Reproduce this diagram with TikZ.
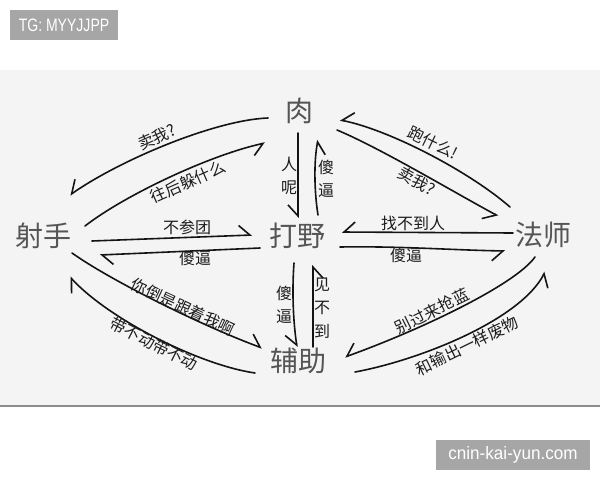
\documentclass[tikz,border=0pt]{standalone}
\usepackage{fontspec}
\setmainfont{Noto Sans CJK SC}
\newfontfamily\wmfont{Liberation Sans}
\usetikzlibrary{arrows.meta}
\definecolor{panel}{HTML}{F4F4F4}
\definecolor{rimgray}{HTML}{8C8C8C}
\definecolor{wmgray}{HTML}{A6A6A6}
\definecolor{rolegray}{HTML}{555555}
\definecolor{lblgray}{HTML}{1C1C1C}
\tikzset{
  role/.style={text=rolegray, font=\fontsize{28}{30}\selectfont, inner sep=0pt},
  lbl/.style={text=lblgray, font=\fontsize{16}{23.5}\selectfont, inner sep=0pt, align=center},
  wm/.style={text=white, font=\wmfont\fontsize{18}{20}\selectfont, inner sep=0pt},
  arr/.style={line width=1.6pt, color=black!92, line cap=round, -{Straight Barb[right, length=11pt, width=20pt]}},
  arrl/.style={arr, -{Straight Barb[left, length=11pt, width=20pt]}},
}
\begin{document}
\begin{tikzpicture}[x=1pt, y=-1pt]
	\useasboundingbox (0,0) rectangle (600,480);
	\fill[white] (0,0) rectangle (600,480);
	\fill[panel] (0,70) rectangle (600,406);
	\draw[rimgray, line width=1.2pt] (0,406) -- (600,406);
	%\draw[step=50, gray, opacity=0.4](0,0)grid(600,480);
	\fill[wmgray] (10,10) rectangle (118,40);
	\node[wm, xscale=0.78] (tg) at (64,25.5) {TG: MYYJJPP};
	\fill[wmgray] (436,440) rectangle (590,470);
	\node[wm, xscale=0.95] (site) at (513,455) {cnin-kai-yun.com};

	\node[role] (rou) at (299,111) {肉};
	\node[role] (shooter) at (44,236) {射手};
	\node[role] (jungle) at (297,236) {打野};
	\node[role] (mage) at (543,235) {法师};
	\node[role] (support) at (298,361) {辅助};

	\draw[arr] ([shift={(-31,7)}]rou.center) .. controls (215,120) and (120,160) .. ([shift={(26,-41)}]shooter.center);
	\draw[arr] ([shift={(41,-10)}]shooter.center) .. controls (125,195) and (210,155) .. ([shift={(-34,32)}]rou.center);
	\draw[arrl] ([shift={(48,5)}]shooter.center) -- ([shift={(-45,-1)}]jungle.center);
	\draw[arrl] ([shift={(-37,12)}]jungle.center) -- ([shift={(56,19)}]shooter.center);
	\draw[arr] ([shift={(-1,22)}]rou.center) -- ([shift={(1,-18)}]jungle.center);
	\draw[arr] ([shift={(21,-21)}]jungle.center) .. controls (314,190) and (314,160) .. ([shift={(19,29)}]rou.center);
	\draw[arr] ([shift={(-3,27)}]jungle.center) .. controls (292,290) and (293,320) .. ([shift={(-1,-14)}]support.center);
	\draw[arr] ([shift={(15,-14)}]support.center) -- ([shift={(16,29)}]jungle.center);
	\draw[arr] ([shift={(-33,-28)}]mage.center) .. controls (470,172) and (390,130) .. ([shift={(41,9)}]rou.center);
	\draw[arr] ([shift={(38,19)}]rou.center) .. controls (380,148) and (450,190) .. ([shift={(-45,-19)}]mage.center);
	\draw[arr] ([shift={(-30,-2)}]mage.center) -- ([shift={(45,-4)}]jungle.center);
	\draw[arr] ([shift={(43,11)}]jungle.center) .. controls (400,246) and (450,250) .. ([shift={(-38,16)}]mage.center);
	\draw[arr] ([shift={(-8,22)}]mage.center) .. controls (515,285) and (420,330) .. ([shift={(47,-4)}]support.center);
	\draw[arr] ([shift={(57,11)}]support.center) .. controls (420,360) and (520,320) .. ([shift={(2,37)}]mage.center);
	\draw[arrl] ([shift={(28,17)}]shooter.center) .. controls (110,280) and (200,325) .. ([shift={(-36,-13)}]support.center);
	\draw[arrl] ([shift={(-43,12)}]support.center) .. controls (200,365) and (110,320) .. ([shift={(26,41)}]shooter.center);

	\node[lbl, rotate=24] (maiwoA) at (157,137) {卖我?};
	\node[lbl, rotate=24] (wanghou) at (188,182) {往后躲什么};
	\node[lbl] (bucantuan) at (187,227) {不参团};
	\node[lbl] (shabiA) at (195,258) {傻逼};
	\node[lbl] (renne) at (289,176) {人\\呢};
	\node[lbl] (shabiB) at (326,179) {傻\\逼};
	\node[lbl] (shabiC) at (284,305) {傻\\逼};
	\node[lbl] (jianbudao) at (322,308) {见\\不\\到};
	\node[lbl, rotate=-26] (paoshenme) at (433,143) {跑什么!};
	\node[lbl, rotate=-29] (maiwoB) at (417,181) {卖我?};
	\node[lbl] (zhaobudao) at (413,223) {找不到人};
	\node[lbl] (shabiD) at (406,255) {傻逼};
	\node[lbl, rotate=26] (bieguolai) at (432,311) {别过来抢蓝};
	\node[lbl, rotate=26] (heshuchu) at (467,346) {和输出一样废物};
	\node[lbl, rotate=-25] (nidao) at (183,307) {你倒是跟着我啊};
	\node[lbl, rotate=-27] (daibudong) at (154,344) {带不动带不动};
\end{tikzpicture}
\end{document}
